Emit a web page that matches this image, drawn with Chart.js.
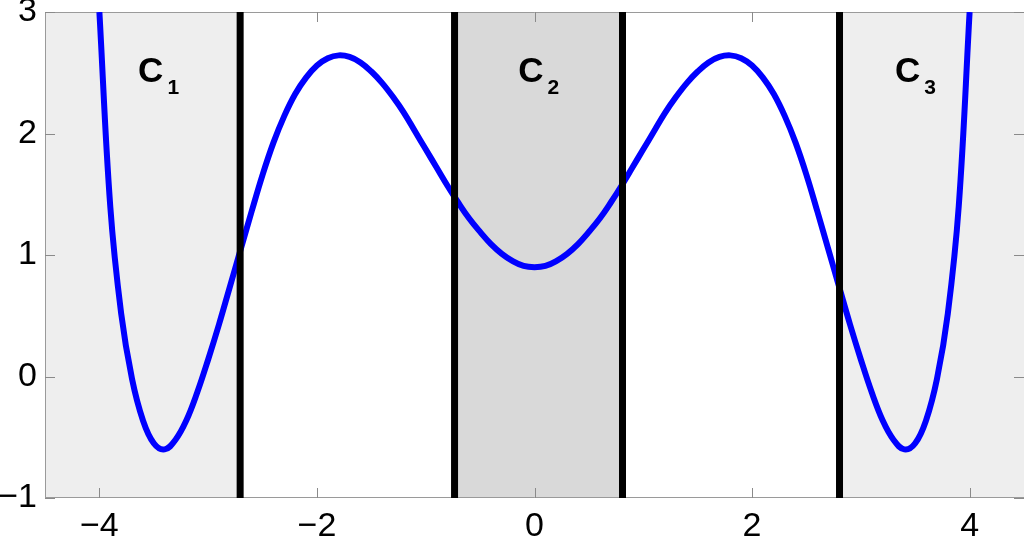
<!DOCTYPE html>
<html>
<head>
<meta charset="utf-8">
<script src="https://cdn.jsdelivr.net/npm/chart.js@4/dist/chart.umd.min.js"></script>
<style>
  html, body { margin: 0; padding: 0; background: #ffffff; }
  #wrap { width: 1024px; height: 538px; }
</style>
</head>
<body>
<div id="wrap"><canvas id="c" width="1024" height="538"></canvas></div>
<script>
// ---- data ----
const curveX = [
  -4.0, -3.9, -3.8, -3.7, -3.6, -3.5, -3.4, -3.3, -3.2, -3.1,
  -3.0, -2.9, -2.8, -2.7, -2.6, -2.5, -2.4, -2.3, -2.2, -2.1,
  -2.0, -1.9, -1.8, -1.7, -1.6, -1.5, -1.4, -1.3, -1.2, -1.1,
  -1.0, -0.9, -0.8, -0.7, -0.6, -0.5, -0.4, -0.3, -0.2, -0.1,
   0.0,
   0.1,  0.2,  0.3,  0.4,  0.5,  0.6,  0.7,  0.8,  0.9,  1.0,
   1.1,  1.2,  1.3,  1.4,  1.5,  1.6,  1.7,  1.8,  1.9,  2.0,
   2.1,  2.2,  2.3,  2.4,  2.5,  2.6,  2.7,  2.8,  2.9,  3.0,
   3.1,  3.2,  3.3,  3.4,  3.5,  3.6,  3.7,  3.8,  3.9,  4.0
];
const curveY = [
   3.00,  1.40,  0.52, -0.02, -0.36, -0.55, -0.60, -0.52, -0.36, -0.13,
   0.14,  0.43,  0.74,  1.05,  1.36,  1.66,  1.925, 2.145, 2.325, 2.46,
   2.56,  2.62,  2.643, 2.63,  2.585, 2.51,  2.415, 2.30,  2.17,  2.02,
   1.87,  1.72,  1.57,  1.43,  1.30,  1.19,  1.09,  1.01,  0.95,  0.91,
   0.90,
   0.91,  0.95,  1.01,  1.09,  1.19,  1.30,  1.43,  1.57,  1.72,  1.87,
   2.02,  2.17,  2.30,  2.415, 2.51,  2.585, 2.63,  2.643, 2.62,  2.56,
   2.46,  2.325, 2.145, 1.925, 1.66,  1.36,  1.05,  0.74,  0.43,  0.14,
  -0.13, -0.36, -0.52, -0.60, -0.55, -0.36, -0.02,  0.52,  1.40,  3.00
];
const boundaryX = [-2.706, -0.735, 0.809, 2.804];
const regionStart = [-4.5, -0.735, 2.804];
const regionEnd   = [-2.706, 0.809, 4.5];
const regionFill  = ['#eeeeee', '#d9d9d9', '#eeeeee'];
const xTickValues = [-4, -2, 0, 2, 4];
const yTickValues = [-1, 0, 1, 2, 3];
const labelMain = ['C', 'C', 'C'];
const labelSub  = ['1', '2', '3'];
const labelX    = [-3.644, -0.150, 3.314];
const labelY    = 2.424;

// ---- build datasets ----
const curvePoints = curveX.map((x, i) => ({ x: x, y: curveY[i] }));
const datasets = [];
boundaryX.forEach(bx => {
  datasets.push({
    data: [{ x: bx, y: -1 }, { x: bx, y: 3 }],
    borderColor: '#000000', borderWidth: 7, pointRadius: 0,
    tension: 0, order: 0
  });
});
datasets.push({
  data: curvePoints,
  borderColor: '#0000ff', borderWidth: 6, pointRadius: 0,
  tension: 0.4, borderJoinStyle: 'round', order: 1
});

const fmt = v => (v < 0 ? '\u2212' + Math.abs(v) : String(v));
const FONT = '"Liberation Sans", Arial, Helvetica, sans-serif';

const matlabPlugin = {
  id: 'matlabPlugin',
  beforeDatasetsDraw(chart) {
    const { ctx, chartArea: a, scales: { x, y } } = chart;
    ctx.save();
    regionStart.forEach((s, i) => {
      const x0 = x.getPixelForValue(s), x1 = x.getPixelForValue(regionEnd[i]);
      ctx.fillStyle = regionFill[i];
      ctx.fillRect(x0, a.top, x1 - x0, a.bottom - a.top);
    });
    ctx.strokeStyle = '#9a9a9a';
    ctx.lineWidth = 1;
    ctx.beginPath();
    ctx.moveTo(a.left + 0.5, a.top + 0.5); ctx.lineTo(a.right, a.top + 0.5);
    ctx.moveTo(a.left + 0.5, a.bottom - 0.5); ctx.lineTo(a.right, a.bottom - 0.5);
    ctx.moveTo(a.left + 0.5, a.top); ctx.lineTo(a.left + 0.5, a.bottom);
    ctx.stroke();
    ctx.strokeStyle = '#8a8a8a';
    ctx.beginPath();
    xTickValues.forEach(v => {
      const px = Math.round(x.getPixelForValue(v)) + 0.5;
      ctx.moveTo(px, a.bottom); ctx.lineTo(px, a.bottom - 10);
      ctx.moveTo(px, a.top); ctx.lineTo(px, a.top + 10);
    });
    yTickValues.forEach(v => {
      const py = Math.round(y.getPixelForValue(v)) + 0.5;
      ctx.moveTo(a.left, py); ctx.lineTo(a.left + 10, py);
      ctx.moveTo(a.right, py); ctx.lineTo(a.right - 10, py);
    });
    ctx.stroke();
    ctx.restore();
  },
  afterDatasetsDraw(chart) {
    const { ctx, scales: { x, y } } = chart;
    ctx.save();
    ctx.fillStyle = '#000000';
    ctx.textBaseline = 'alphabetic';
    ctx.textAlign = 'left';
    labelMain.forEach((t, i) => {
      const px = x.getPixelForValue(labelX[i]);
      const py = y.getPixelForValue(labelY);
      ctx.font = 'bold 35px ' + FONT;
      ctx.fillText(t, px, py);
      const w = ctx.measureText(t).width;
      ctx.font = 'bold 21px ' + FONT;
      ctx.fillText(labelSub[i], px + w + 4, py + 12);
    });
    ctx.restore();
  }
};

new Chart(document.getElementById('c'), {
  type: 'line',
  data: { datasets: datasets },
  plugins: [matlabPlugin],
  options: {
    responsive: false,
    animation: false,
    events: [],
    layout: { padding: { top: 12, right: 0, left: 0, bottom: 0 } },
    plugins: { legend: { display: false }, tooltip: { enabled: false } },
    scales: {
      x: {
        type: 'linear', min: -4.5, max: 4.5,
        afterBuildTicks: s => { s.ticks = xTickValues.map(v => ({ value: v })); },
        afterFit: s => { s.height = 40; s.paddingLeft = 0; s.paddingRight = 0; },
        grid: { display: false, drawTicks: false },
        border: { display: false },
        ticks: { color: '#000', padding: 8, font: { family: FONT, size: 34 }, callback: fmt, maxRotation: 0 }
      },
      y: {
        type: 'linear', min: -1, max: 3,
        afterBuildTicks: s => { s.ticks = yTickValues.map(v => ({ value: v })); },
        afterFit: s => { s.width = 45; s.paddingTop = 0; s.paddingBottom = 0; },
        grid: { display: false, drawTicks: false },
        border: { display: false },
        ticks: { color: '#000', padding: 8, font: { family: FONT, size: 34 }, callback: fmt }
      }
    }
  }
});
</script>
</body>
</html>
